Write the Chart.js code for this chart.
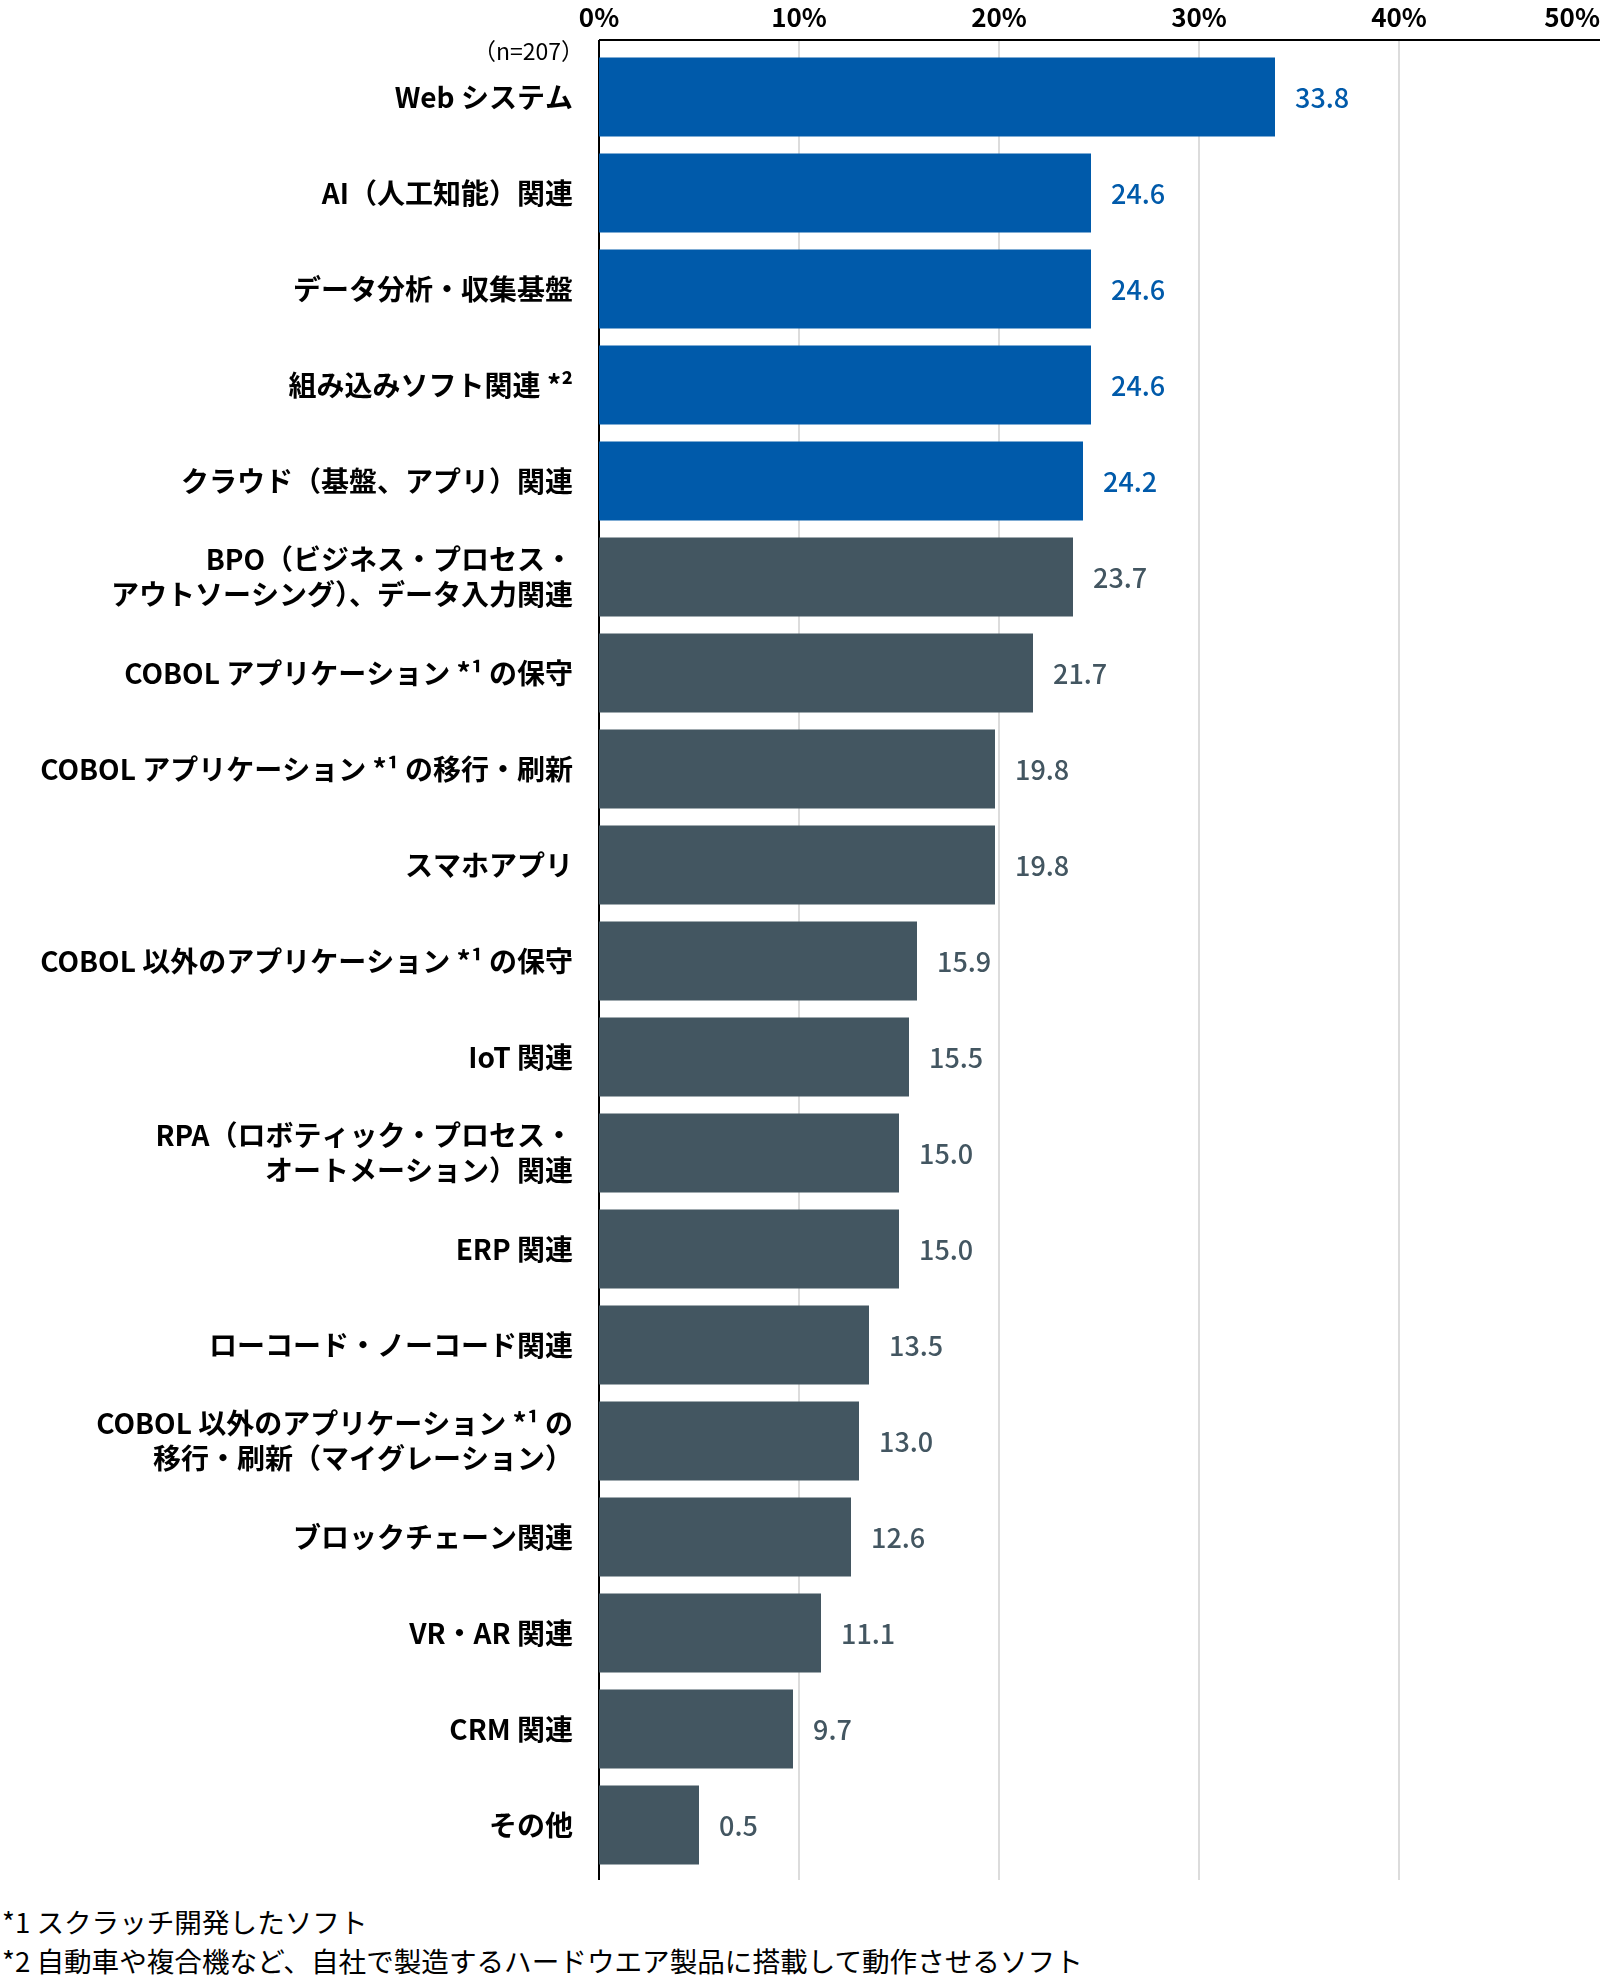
<!DOCTYPE html>
<html lang="ja">
<head>
<meta charset="utf-8">
<title>受注・関心のある分野</title>
<script src="https://cdn.jsdelivr.net/npm/chart.js@4.4.1/dist/chart.umd.min.js"></script>
<style>
  body { margin: 0; background: #fff; font-family: "Noto Sans CJK JP", sans-serif; }
  #wrap { position: relative; width: 1600px; height: 1982px; }
  #chartBox { position: absolute; left: 0; top: 0; width: 1600px; height: 1890px; }
  #sample { position: absolute; right: 1016px; top: 35px; font-size: 23px; line-height: 30px; color: #000; }
  #notes { position: absolute; left: 2px; top: 1902px; font-size: 27.6px; line-height: 39px; color: #000; white-space: nowrap; }
</style>
</head>
<body>
<div id="wrap">
  <div id="chartBox"><canvas id="grafico"></canvas></div>
  <div id="sample">（n=207）</div>
  <div id="notes">
    <div>*1 スクラッチ開発したソフト</div>
    <div>*2 自動車や複合機など、自社で製造するハードウエア製品に搭載して動作させるソフト</div>
  </div>
</div>
<script>
const categories = [
  'Web システム',
  'AI（人工知能）関連',
  'データ分析・収集基盤',
  '組み込みソフト関連 *²',
  'クラウド（基盤、アプリ）関連',
  ['BPO（ビジネス・プロセス・', 'アウトソーシング）、データ入力関連'],
  'COBOL アプリケーション *¹ の保守',
  'COBOL アプリケーション *¹ の移行・刷新',
  'スマホアプリ',
  'COBOL 以外のアプリケーション *¹ の保守',
  'IoT 関連',
  ['RPA（ロボティック・プロセス・', 'オートメーション）関連'],
  'ERP 関連',
  'ローコード・ノーコード関連',
  ['COBOL 以外のアプリケーション *¹ の', '移行・刷新（マイグレーション）'],
  'ブロックチェーン関連',
  'VR・AR 関連',
  'CRM 関連',
  'その他'
];

// bar lengths as drawn in the picture (the last bar is drawn at about 5 although printed 0.5)
const barValues = [33.8, 24.6, 24.6, 24.6, 24.2, 23.7, 21.7, 19.8, 19.8, 15.9, 15.5, 15.0, 15.0, 13.5, 13.0, 12.6, 11.1, 9.7, 5.0];
const valueLabels = ['33.8', '24.6', '24.6', '24.6', '24.2', '23.7', '21.7', '19.8', '19.8', '15.9', '15.5', '15.0', '15.0', '13.5', '13.0', '12.6', '11.1', '9.7', '0.5'];
const axisMin = 0;
const axisMax = 50;
const axisStep = 10;
const highlightCount = 5;

const azul = '#005aaa';
const cinza = '#435661';
const fonte = '"Noto Sans CJK JP", sans-serif';

const coresBarras = barValues.map((v, i) => i < highlightCount ? azul : cinza);

// grid, axis lines and % ticks, drawn a bit past the chart area like the original
const moldura = {
  id: 'moldura',
  beforeDatasetsDraw(chart) {
    const ctx = chart.ctx;
    const area = chart.chartArea;
    const x = chart.scales.x;
    const top = area.top - 9;
    const bottom = area.bottom + 7;
    ctx.save();
    ctx.strokeStyle = '#dcdcdc';
    ctx.lineWidth = 2;
    x.ticks.forEach(t => {
      if (t.value === axisMin || t.value === axisMax) return;
      const px = Math.round(x.getPixelForValue(t.value));
      ctx.beginPath();
      ctx.moveTo(px, top);
      ctx.lineTo(px, bottom);
      ctx.stroke();
    });
    ctx.strokeStyle = '#000';
    ctx.beginPath();
    ctx.moveTo(area.left, top);
    ctx.lineTo(chart.width, top);
    ctx.stroke();
    ctx.beginPath();
    ctx.moveTo(area.left, top);
    ctx.lineTo(area.left, bottom);
    ctx.stroke();

    ctx.fillStyle = '#000';
    ctx.font = 'bold 26px ' + fonte;
    ctx.textBaseline = 'middle';
    x.ticks.forEach(t => {
      const px = x.getPixelForValue(t.value);
      const texto = t.value + '%';
      const w = ctx.measureText(texto).width;
      ctx.textAlign = 'center';
      let pos = px;
      if (pos + w / 2 > chart.width) pos = chart.width - w / 2;
      ctx.fillText(texto, pos, top - 23);
    });
    ctx.restore();
  }
};

const rotulos = {
  id: 'rotulos',
  afterDatasetsDraw(chart) {
    const ctx = chart.ctx;
    const meta = chart.getDatasetMeta(0);
    ctx.save();
    ctx.font = '500 27px ' + fonte;
    ctx.textAlign = 'left';
    ctx.textBaseline = 'middle';
    meta.data.forEach((bar, i) => {
      ctx.fillStyle = i < highlightCount ? azul : cinza;
      ctx.fillText(valueLabels[i], bar.x + 20, bar.y + 1);
    });
    ctx.restore();
  }
};

Chart.defaults.font.family = fonte;

new Chart(document.getElementById('grafico').getContext('2d'), {
  type: 'bar',
  data: {
    labels: categories,
    datasets: [{
      data: barValues,
      backgroundColor: coresBarras,
      barPercentage: 0.823,
      categoryPercentage: 1
    }]
  },
  options: {
    indexAxis: 'y',
    responsive: true,
    maintainAspectRatio: false,
    animation: false,
    layout: { padding: { top: 0, right: 1, bottom: 17, left: 0 } },
    plugins: {
      legend: { display: false },
      tooltip: { enabled: false }
    },
    scales: {
      x: {
        type: 'linear',
        position: 'top',
        min: axisMin,
        max: axisMax,
        ticks: { stepSize: axisStep, display: false },
        grid: { display: false },
        border: { display: false },
        afterFit(scale) {
          scale.height = 49;
          scale.paddingLeft = 0;
          scale.paddingRight = 0;
        }
      },
      y: {
        grid: { display: false, drawTicks: false },
        border: { display: false },
        ticks: {
          color: '#000',
          padding: 26,
          font: { size: 28, weight: 'bold', lineHeight: 1.27 }
        },
        afterFit(scale) {
          scale.width = 599;
          scale.paddingTop = 0;
          scale.paddingBottom = 0;
        }
      }
    }
  },
  plugins: [moldura, rotulos]
});
</script>
</body>
</html>
